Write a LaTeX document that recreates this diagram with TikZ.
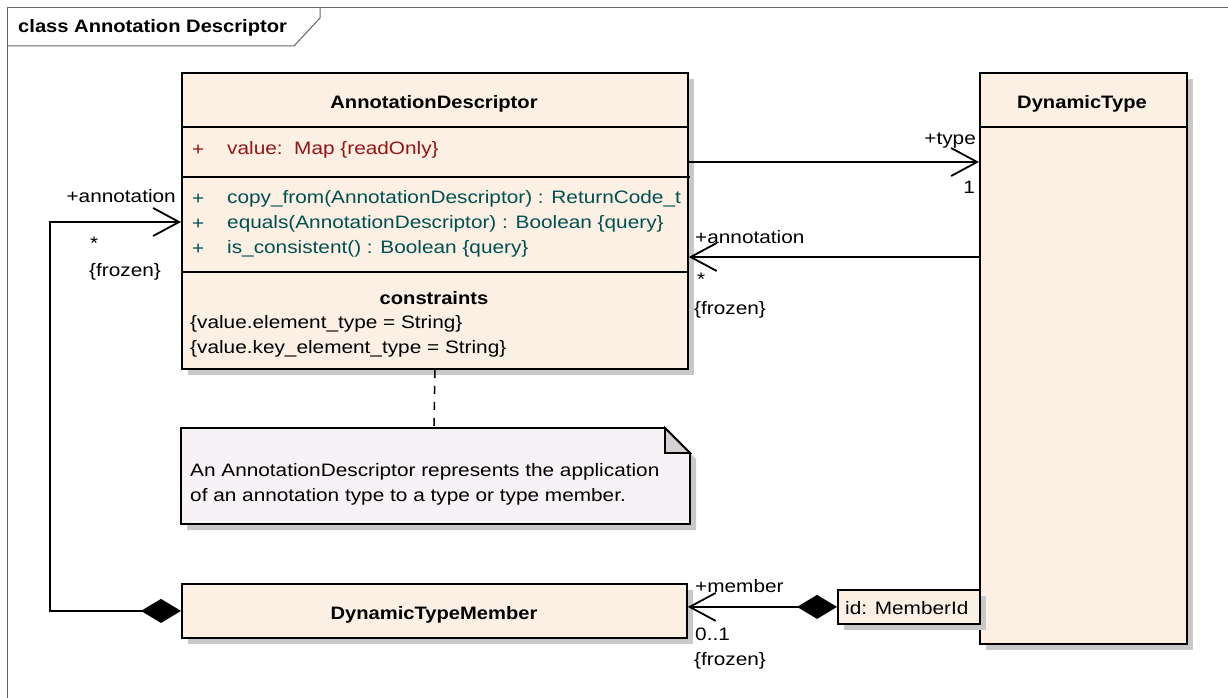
\documentclass[tikz,border=0pt]{standalone}
\usepackage{fontspec}
\setmainfont[FakeStretch=1.155, BoldFeatures={FakeStretch=1.12}]{Liberation Sans}
\usetikzlibrary{arrows.meta,shadows}

\definecolor{classFill}{RGB}{251,240,227}
\definecolor{noteFill}{RGB}{246,242,246}
\definecolor{foldFill}{RGB}{212,208,212}
\definecolor{shadowGray}{RGB}{200,200,200}
\definecolor{attrRed}{RGB}{150,20,20}
\definecolor{opTeal}{RGB}{0,80,80}

\begin{document}
\begin{tikzpicture}[
        x=1pt, y=-1pt,
        font=\fontsize{18}{22}\selectfont,
        boxShadow/.style={drop shadow={shadow xshift=6pt, shadow yshift=-6pt, fill=shadowGray, opacity=1}},
        classBox/.style={rectangle, draw, line width=1.8pt, fill=classFill, anchor=north west, inner sep=0pt, boxShadow},
        boxLine/.style={line width=1.8pt},
        frameLine/.style={draw=black!60, line width=1pt},
        nameText/.style={font=\fontsize{18}{22}\selectfont\bfseries},
        attrText/.style={anchor=west, text=attrRed, inner sep=0pt},
        opText/.style={anchor=west, text=opTeal, inner sep=0pt},
        plainText/.style={anchor=west, inner sep=0pt},
        roleText/.style={inner sep=0pt},
        assoc/.style={line width=1.8pt, -{Straight Barb[length=26pt, width=28pt, line width=1.8pt]}},
        compo/.style={line width=1.8pt, {Diamond[length=40pt, width=24pt]}-{Straight Barb[length=26pt, width=28pt, line width=1.8pt]}}
    ]
        \useasboundingbox (0,0) rectangle (1228,698);

        % Frame with title tab
        \draw[frameLine] (7,698) -- (7,8) -- (1228,8);
        \draw[frameLine] (7,46) -- (294,46) -- (320,18) -- (320,8);
        \node[anchor=west, inner sep=0pt, font=\fontsize{18}{22}\selectfont\bfseries] (frameTitle) at (18,28) {class Annotation Descriptor};

        % AnnotationDescriptor
        \node[classBox, minimum width=506pt, minimum height=296pt] (ad) at (181,72) {};
        \node[nameText] (adName) at (434,104) {AnnotationDescriptor};
        \draw[boxLine] (181,127) -- (687,127);
        \node[attrText] (adPlus) at (192,150) {+};
        \node[attrText] (adValue) at (227,150) {value:\ \ Map \{readOnly\}};
        \draw[boxLine] (181,177) -- (690,177);
        \node[opText] (opPlusA) at (192,199) {+};
        \node[opText] (opCopy) at (227,199) {copy\_from(AnnotationDescriptor) : ReturnCode\_t};
        \node[opText] (opPlusB) at (192,224) {+};
        \node[opText] (opEquals) at (227,224) {equals(AnnotationDescriptor) : Boolean \{query\}};
        \node[opText] (opPlusC) at (192,249) {+};
        \node[opText] (opConsistent) at (227,249) {is\_consistent() : Boolean \{query\}};
        \draw[boxLine] (181,272) -- (687,272);
        \node[nameText] (adConstraints) at (434,298) {constraints};
        \node[plainText] (consA) at (190,324) {\{value.element\_type = String\}};
        \node[plainText] (consB) at (190,349) {\{value.key\_element\_type = String\}};

        % DynamicType
        \node[classBox, minimum width=207pt, minimum height=571pt] (dt) at (979,72) {};
        \node[nameText] (dtName) at (1082,104) {DynamicType};
        \draw[boxLine] (979,127) -- (1186,127);

        % Qualifier
        \node[classBox, boxShadow/.style={}, minimum width=142pt, minimum height=34pt] (idBox) at (837,589) {};
        \node[plainText] (idText) at (845,608) {id: MemberId};

        % DynamicTypeMember
        \node[classBox, minimum width=505pt, minimum height=54pt] (dtm) at (181,583) {};
        \node[nameText] (dtmName) at (434,615) {DynamicTypeMember};

        % Note
        \draw[line width=1.8pt, fill=noteFill, boxShadow] (181,428) -- (665,428) -- (690,453) -- (690,524) -- (181,524) -- cycle;
        \draw[line width=1.8pt, fill=foldFill] (665,428) -- (665,453) -- (690,453) -- cycle;
        \coordinate (noteTop) at (434,428);
        \node[plainText] (noteA) at (190,472) {An AnnotationDescriptor represents the application};
        \node[plainText] (noteB) at (190,497) {of an annotation type to a type or type member.};

        % Edges
        \draw[assoc] ([yshift=-90pt]ad.north east) -- ([yshift=-90pt]dt.north west);
        \draw[assoc] ([yshift=-185pt]dt.north west) -- ([yshift=-185pt]ad.north east);
        \draw[compo] (idBox.west) -- (idBox.west -| dtm.east);
        \draw[compo] (dtm.west) -- ++(-131,0) |- ([yshift=-150pt]ad.north west);
        \draw[line width=1.6pt, dash pattern=on 8pt off 8pt] (ad.south) -- (noteTop);

        % Role labels
        \node[roleText, anchor=east] (typeRole) at (976,141) {+type};
        \node[roleText, anchor=east] (typeMult) at (975,187) {1};
        \node[roleText, anchor=west] (annRoleR) at (695,237) {+annotation};
        \node[roleText, anchor=west] (annMultR) at (697,279) {*};
        \node[roleText, anchor=west] (annFrozenR) at (694,310) {\{frozen\}};
        \node[roleText, anchor=east] (annRoleL) at (176,196) {+annotation};
        \node[roleText, anchor=west] (annMultL) at (90,243) {*};
        \node[roleText, anchor=west] (annFrozenL) at (89,272) {\{frozen\}};
        \node[roleText, anchor=west] (memRole) at (695,586) {+member};
        \node[roleText, anchor=west] (memMult) at (695,634) {0..1};
        \node[roleText, anchor=west] (memFrozen) at (694,661) {\{frozen\}};
    \end{tikzpicture}
\end{document}
